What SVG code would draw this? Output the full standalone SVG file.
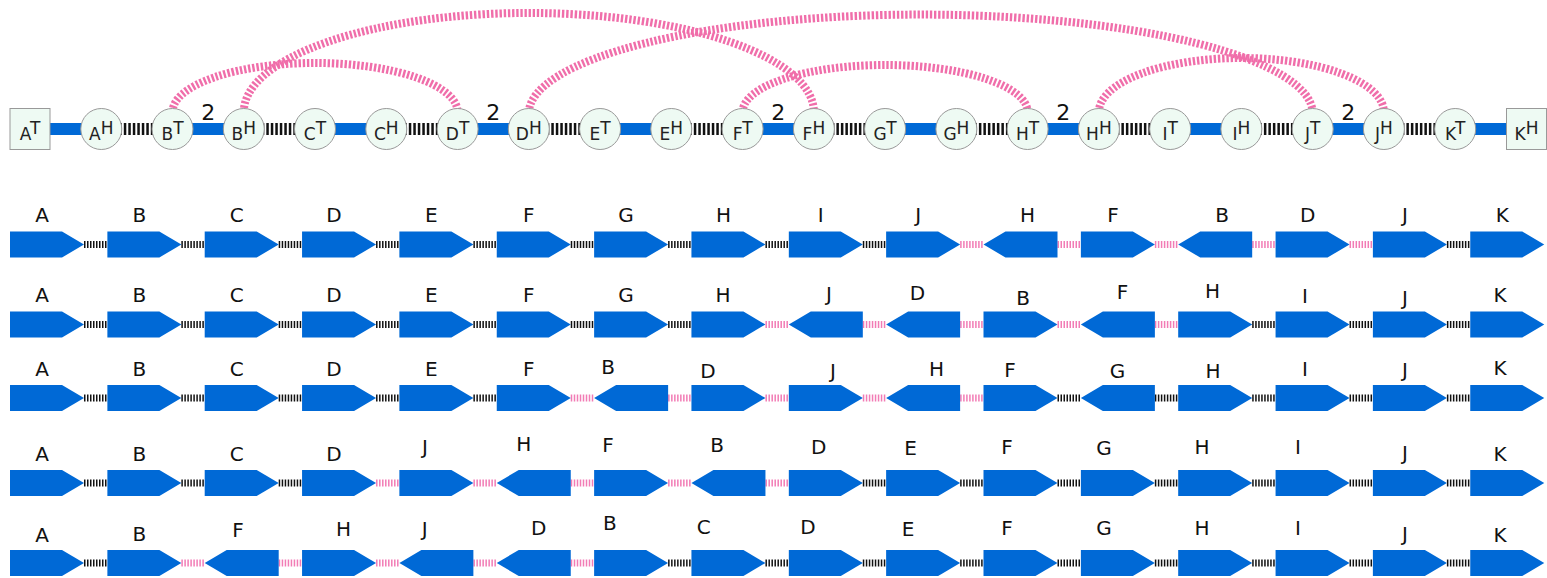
<svg xmlns="http://www.w3.org/2000/svg" xmlns:xlink="http://www.w3.org/1999/xlink" width="1547" height="578" viewBox="0 0 1547 578">
<style>
.blue{stroke:#0069d6;stroke-width:12}
.blk{stroke:#111;stroke-width:12;stroke-dasharray:2.5 2}
.arc{fill:none;stroke:#f06eaa;stroke-width:8;stroke-dasharray:2.4 1.8}
.rb{stroke:#111;stroke-width:7;stroke-dasharray:1.5 1.5}
.rp{stroke:#f27cb5;stroke-width:7;stroke-dasharray:1.5 1.5}
.node{fill:#eefaf3;stroke:#999;stroke-width:1}
.nt{font-family:"DejaVu Sans",sans-serif;font-size:17px;fill:#222;text-anchor:middle}
.two{font-family:"DejaVu Sans",sans-serif;font-size:22px;fill:#111;text-anchor:middle}
.lbl{font-family:"DejaVu Sans",sans-serif;font-size:20px;fill:#111;text-anchor:middle}
.ar{fill:#0069d6}
</style>
<defs>
<polygon id="fwd" points="0,-13 52,-13 74,0 52,13 0,13"/>
<polygon id="rev" points="74,-13 22,-13 0,0 22,13 74,13"/>
</defs>
<rect width="1547" height="578" fill="#fff"/>
<g id="connectors">
<g id="top-edges">
<line class="blue" x1="30" y1="129" x2="101.3" y2="129"/>
<line class="blue" x1="172.5" y1="129" x2="243.8" y2="129"/>
<line class="blue" x1="315" y1="129" x2="386.3" y2="129"/>
<line class="blue" x1="457.6" y1="129" x2="528.8" y2="129"/>
<line class="blue" x1="600.1" y1="129" x2="671.3" y2="129"/>
<line class="blue" x1="742.6" y1="129" x2="813.9" y2="129"/>
<line class="blue" x1="885.1" y1="129" x2="956.4" y2="129"/>
<line class="blue" x1="1027.6" y1="129" x2="1098.9" y2="129"/>
<line class="blue" x1="1170.2" y1="129" x2="1241.4" y2="129"/>
<line class="blue" x1="1312.7" y1="129" x2="1383.9" y2="129"/>
<line class="blue" x1="1455.2" y1="129" x2="1526.5" y2="129"/>
<line class="blk" x1="101.3" y1="129" x2="172.5" y2="129"/>
<line class="blk" x1="243.8" y1="129" x2="315" y2="129"/>
<line class="blk" x1="386.3" y1="129" x2="457.6" y2="129"/>
<line class="blk" x1="528.8" y1="129" x2="600.1" y2="129"/>
<line class="blk" x1="671.3" y1="129" x2="742.6" y2="129"/>
<line class="blk" x1="813.9" y1="129" x2="885.1" y2="129"/>
<line class="blk" x1="956.4" y1="129" x2="1027.6" y2="129"/>
<line class="blk" x1="1098.9" y1="129" x2="1170.2" y2="129"/>
<line class="blk" x1="1241.4" y1="129" x2="1312.7" y2="129"/>
<line class="blk" x1="1383.9" y1="129" x2="1455.2" y2="129"/>
<path class="arc" d="M172.5,112 A142.5,49 0 0 1 457.6,112"/>
<path class="arc" d="M243.8,112 A285,99 0 0 1 813.9,112"/>
<path class="arc" d="M528.8,112 A392,99 0 0 1 1312.7,112"/>
<path class="arc" d="M742.6,112 A142.5,47 0 0 1 1027.6,112"/>
<path class="arc" d="M1098.9,112 A142.5,54 0 0 1 1383.9,112"/>
<text class="two" x="208.2" y="120">2</text>
<text class="two" x="493.2" y="120">2</text>
<text class="two" x="778.2" y="120">2</text>
<text class="two" x="1063.3" y="120">2</text>
<text class="two" x="1348.3" y="120">2</text>
</g>
<g id="row1-edges">
<line class="rb" x1="84" y1="244.5" x2="107.35" y2="244.5"/>
<line class="rb" x1="181.35" y1="244.5" x2="204.7" y2="244.5"/>
<line class="rb" x1="278.7" y1="244.5" x2="302.05" y2="244.5"/>
<line class="rb" x1="376.05" y1="244.5" x2="399.4" y2="244.5"/>
<line class="rb" x1="473.4" y1="244.5" x2="496.75" y2="244.5"/>
<line class="rb" x1="570.75" y1="244.5" x2="594.1" y2="244.5"/>
<line class="rb" x1="668.1" y1="244.5" x2="691.45" y2="244.5"/>
<line class="rb" x1="765.45" y1="244.5" x2="788.8" y2="244.5"/>
<line class="rb" x1="862.8" y1="244.5" x2="886.15" y2="244.5"/>
<line class="rp" x1="960.15" y1="244.5" x2="983.5" y2="244.5"/>
<line class="rp" x1="1057.5" y1="244.5" x2="1080.85" y2="244.5"/>
<line class="rp" x1="1154.85" y1="244.5" x2="1178.2" y2="244.5"/>
<line class="rp" x1="1252.2" y1="244.5" x2="1275.55" y2="244.5"/>
<line class="rp" x1="1349.55" y1="244.5" x2="1372.9" y2="244.5"/>
<line class="rb" x1="1446.9" y1="244.5" x2="1470.25" y2="244.5"/>
</g>
<g id="row2-edges">
<line class="rb" x1="84" y1="324.5" x2="107.35" y2="324.5"/>
<line class="rb" x1="181.35" y1="324.5" x2="204.7" y2="324.5"/>
<line class="rb" x1="278.7" y1="324.5" x2="302.05" y2="324.5"/>
<line class="rb" x1="376.05" y1="324.5" x2="399.4" y2="324.5"/>
<line class="rb" x1="473.4" y1="324.5" x2="496.75" y2="324.5"/>
<line class="rb" x1="570.75" y1="324.5" x2="594.1" y2="324.5"/>
<line class="rb" x1="668.1" y1="324.5" x2="691.45" y2="324.5"/>
<line class="rp" x1="765.45" y1="324.5" x2="788.8" y2="324.5"/>
<line class="rp" x1="862.8" y1="324.5" x2="886.15" y2="324.5"/>
<line class="rp" x1="960.15" y1="324.5" x2="983.5" y2="324.5"/>
<line class="rp" x1="1057.5" y1="324.5" x2="1080.85" y2="324.5"/>
<line class="rp" x1="1154.85" y1="324.5" x2="1178.2" y2="324.5"/>
<line class="rb" x1="1252.2" y1="324.5" x2="1275.55" y2="324.5"/>
<line class="rb" x1="1349.55" y1="324.5" x2="1372.9" y2="324.5"/>
<line class="rb" x1="1446.9" y1="324.5" x2="1470.25" y2="324.5"/>
</g>
<g id="row3-edges">
<line class="rb" x1="84" y1="398" x2="107.35" y2="398"/>
<line class="rb" x1="181.35" y1="398" x2="204.7" y2="398"/>
<line class="rb" x1="278.7" y1="398" x2="302.05" y2="398"/>
<line class="rb" x1="376.05" y1="398" x2="399.4" y2="398"/>
<line class="rb" x1="473.4" y1="398" x2="496.75" y2="398"/>
<line class="rp" x1="570.75" y1="398" x2="594.1" y2="398"/>
<line class="rp" x1="668.1" y1="398" x2="691.45" y2="398"/>
<line class="rp" x1="765.45" y1="398" x2="788.8" y2="398"/>
<line class="rp" x1="862.8" y1="398" x2="886.15" y2="398"/>
<line class="rp" x1="960.15" y1="398" x2="983.5" y2="398"/>
<line class="rb" x1="1057.5" y1="398" x2="1080.85" y2="398"/>
<line class="rb" x1="1154.85" y1="398" x2="1178.2" y2="398"/>
<line class="rb" x1="1252.2" y1="398" x2="1275.55" y2="398"/>
<line class="rb" x1="1349.55" y1="398" x2="1372.9" y2="398"/>
<line class="rb" x1="1446.9" y1="398" x2="1470.25" y2="398"/>
</g>
<g id="row4-edges">
<line class="rb" x1="84" y1="483" x2="107.35" y2="483"/>
<line class="rb" x1="181.35" y1="483" x2="204.7" y2="483"/>
<line class="rb" x1="278.7" y1="483" x2="302.05" y2="483"/>
<line class="rp" x1="376.05" y1="483" x2="399.4" y2="483"/>
<line class="rp" x1="473.4" y1="483" x2="496.75" y2="483"/>
<line class="rp" x1="570.75" y1="483" x2="594.1" y2="483"/>
<line class="rp" x1="668.1" y1="483" x2="691.45" y2="483"/>
<line class="rp" x1="765.45" y1="483" x2="788.8" y2="483"/>
<line class="rb" x1="862.8" y1="483" x2="886.15" y2="483"/>
<line class="rb" x1="960.15" y1="483" x2="983.5" y2="483"/>
<line class="rb" x1="1057.5" y1="483" x2="1080.85" y2="483"/>
<line class="rb" x1="1154.85" y1="483" x2="1178.2" y2="483"/>
<line class="rb" x1="1252.2" y1="483" x2="1275.55" y2="483"/>
<line class="rb" x1="1349.55" y1="483" x2="1372.9" y2="483"/>
<line class="rb" x1="1446.9" y1="483" x2="1470.25" y2="483"/>
</g>
<g id="row5-edges">
<line class="rb" x1="84" y1="563" x2="107.35" y2="563"/>
<line class="rp" x1="181.35" y1="563" x2="204.7" y2="563"/>
<line class="rp" x1="278.7" y1="563" x2="302.05" y2="563"/>
<line class="rp" x1="376.05" y1="563" x2="399.4" y2="563"/>
<line class="rp" x1="473.4" y1="563" x2="496.75" y2="563"/>
<line class="rp" x1="570.75" y1="563" x2="594.1" y2="563"/>
<line class="rb" x1="668.1" y1="563" x2="691.45" y2="563"/>
<line class="rb" x1="765.45" y1="563" x2="788.8" y2="563"/>
<line class="rb" x1="862.8" y1="563" x2="886.15" y2="563"/>
<line class="rb" x1="960.15" y1="563" x2="983.5" y2="563"/>
<line class="rb" x1="1057.5" y1="563" x2="1080.85" y2="563"/>
<line class="rb" x1="1154.85" y1="563" x2="1178.2" y2="563"/>
<line class="rb" x1="1252.2" y1="563" x2="1275.55" y2="563"/>
<line class="rb" x1="1349.55" y1="563" x2="1372.9" y2="563"/>
<line class="rb" x1="1446.9" y1="563" x2="1470.25" y2="563"/>
</g>
</g>
<g id="graph-nodes">
<g id="AT"><rect class="node" x="10" y="108.5" width="40" height="41"/><text class="nt" x="30" y="140">A<tspan dy="-6">T</tspan></text></g>
<g id="AH"><circle class="node" cx="101.3" cy="129" r="20.5"/><text class="nt" x="101.3" y="140">A<tspan dy="-6">H</tspan></text></g>
<g id="BT"><circle class="node" cx="172.5" cy="129" r="20.5"/><text class="nt" x="172.5" y="140">B<tspan dy="-6">T</tspan></text></g>
<g id="BH"><circle class="node" cx="243.8" cy="129" r="20.5"/><text class="nt" x="243.8" y="140">B<tspan dy="-6">H</tspan></text></g>
<g id="CT"><circle class="node" cx="315" cy="129" r="20.5"/><text class="nt" x="315" y="140">C<tspan dy="-6">T</tspan></text></g>
<g id="CH"><circle class="node" cx="386.3" cy="129" r="20.5"/><text class="nt" x="386.3" y="140">C<tspan dy="-6">H</tspan></text></g>
<g id="DT"><circle class="node" cx="457.6" cy="129" r="20.5"/><text class="nt" x="457.6" y="140">D<tspan dy="-6">T</tspan></text></g>
<g id="DH"><circle class="node" cx="528.8" cy="129" r="20.5"/><text class="nt" x="528.8" y="140">D<tspan dy="-6">H</tspan></text></g>
<g id="ET"><circle class="node" cx="600.1" cy="129" r="20.5"/><text class="nt" x="600.1" y="140">E<tspan dy="-6">T</tspan></text></g>
<g id="EH"><circle class="node" cx="671.3" cy="129" r="20.5"/><text class="nt" x="671.3" y="140">E<tspan dy="-6">H</tspan></text></g>
<g id="FT"><circle class="node" cx="742.6" cy="129" r="20.5"/><text class="nt" x="742.6" y="140">F<tspan dy="-6">T</tspan></text></g>
<g id="FH"><circle class="node" cx="813.9" cy="129" r="20.5"/><text class="nt" x="813.9" y="140">F<tspan dy="-6">H</tspan></text></g>
<g id="GT"><circle class="node" cx="885.1" cy="129" r="20.5"/><text class="nt" x="885.1" y="140">G<tspan dy="-6">T</tspan></text></g>
<g id="GH"><circle class="node" cx="956.4" cy="129" r="20.5"/><text class="nt" x="956.4" y="140">G<tspan dy="-6">H</tspan></text></g>
<g id="HT"><circle class="node" cx="1027.6" cy="129" r="20.5"/><text class="nt" x="1027.6" y="140">H<tspan dy="-6">T</tspan></text></g>
<g id="HH"><circle class="node" cx="1098.9" cy="129" r="20.5"/><text class="nt" x="1098.9" y="140">H<tspan dy="-6">H</tspan></text></g>
<g id="IT"><circle class="node" cx="1170.2" cy="129" r="20.5"/><text class="nt" x="1170.2" y="140">I<tspan dy="-6">T</tspan></text></g>
<g id="IH"><circle class="node" cx="1241.4" cy="129" r="20.5"/><text class="nt" x="1241.4" y="140">I<tspan dy="-6">H</tspan></text></g>
<g id="JT"><circle class="node" cx="1312.7" cy="129" r="20.5"/><text class="nt" x="1312.7" y="140">J<tspan dy="-6">T</tspan></text></g>
<g id="JH"><circle class="node" cx="1383.9" cy="129" r="20.5"/><text class="nt" x="1383.9" y="140">J<tspan dy="-6">H</tspan></text></g>
<g id="KT"><circle class="node" cx="1455.2" cy="129" r="20.5"/><text class="nt" x="1455.2" y="140">K<tspan dy="-6">T</tspan></text></g>
<g id="KH"><rect class="node" x="1506.5" y="108.5" width="40" height="41"/><text class="nt" x="1526.5" y="140">K<tspan dy="-6">H</tspan></text></g>
</g>
<g id="row1" class="ar">
<g id="r1-A"><use href="#fwd" x="10" y="244.5"/><text class="lbl" x="42" y="222">A</text></g>
<g id="r1-B"><use href="#fwd" x="107.35" y="244.5"/><text class="lbl" x="139.4" y="222">B</text></g>
<g id="r1-C"><use href="#fwd" x="204.7" y="244.5"/><text class="lbl" x="236.7" y="222">C</text></g>
<g id="r1-D"><use href="#fwd" x="302.05" y="244.5"/><text class="lbl" x="334" y="222">D</text></g>
<g id="r1-E"><use href="#fwd" x="399.4" y="244.5"/><text class="lbl" x="431.4" y="222">E</text></g>
<g id="r1-F"><use href="#fwd" x="496.75" y="244.5"/><text class="lbl" x="528.8" y="222">F</text></g>
<g id="r1-G"><use href="#fwd" x="594.1" y="244.5"/><text class="lbl" x="626.1" y="222">G</text></g>
<g id="r1-H"><use href="#fwd" x="691.45" y="244.5"/><text class="lbl" x="723.5" y="222">H</text></g>
<g id="r1-I"><use href="#fwd" x="788.8" y="244.5"/><text class="lbl" x="820.8" y="222">I</text></g>
<g id="r1-J"><use href="#fwd" x="886.15" y="244.5"/><text class="lbl" x="918.2" y="222">J</text></g>
<g id="r1-H2"><use href="#rev" x="983.5" y="244.5"/><text class="lbl" x="1027.5" y="222">H</text></g>
<g id="r1-F2"><use href="#fwd" x="1080.85" y="244.5"/><text class="lbl" x="1112.9" y="222">F</text></g>
<g id="r1-B2"><use href="#rev" x="1178.2" y="244.5"/><text class="lbl" x="1222.2" y="222">B</text></g>
<g id="r1-D2"><use href="#fwd" x="1275.55" y="244.5"/><text class="lbl" x="1307.6" y="222">D</text></g>
<g id="r1-J2"><use href="#fwd" x="1372.9" y="244.5"/><text class="lbl" x="1404.9" y="222">J</text></g>
<g id="r1-K"><use href="#fwd" x="1470.25" y="244.5"/><text class="lbl" x="1502.3" y="222">K</text></g>
</g>
<g id="row2" class="ar">
<g id="r2-A"><use href="#fwd" x="10" y="324.5"/><text class="lbl" x="42" y="302.3">A</text></g>
<g id="r2-B"><use href="#fwd" x="107.35" y="324.5"/><text class="lbl" x="139.4" y="302.3">B</text></g>
<g id="r2-C"><use href="#fwd" x="204.7" y="324.5"/><text class="lbl" x="236.7" y="302.3">C</text></g>
<g id="r2-D"><use href="#fwd" x="302.05" y="324.5"/><text class="lbl" x="334" y="302.3">D</text></g>
<g id="r2-E"><use href="#fwd" x="399.4" y="324.5"/><text class="lbl" x="431.4" y="302.3">E</text></g>
<g id="r2-F"><use href="#fwd" x="496.75" y="324.5"/><text class="lbl" x="528.8" y="302.3">F</text></g>
<g id="r2-G"><use href="#fwd" x="594.1" y="324.5"/><text class="lbl" x="626.1" y="302.3">G</text></g>
<g id="r2-H"><use href="#fwd" x="691.45" y="324.5"/><text class="lbl" x="723" y="302.3">H</text></g>
<g id="r2-J"><use href="#rev" x="788.8" y="324.5"/><text class="lbl" x="829" y="300.8">J</text></g>
<g id="r2-D2"><use href="#rev" x="886.15" y="324.5"/><text class="lbl" x="917.5" y="300.3">D</text></g>
<g id="r2-B2"><use href="#fwd" x="983.5" y="324.5"/><text class="lbl" x="1023" y="305.3">B</text></g>
<g id="r2-F2"><use href="#rev" x="1080.85" y="324.5"/><text class="lbl" x="1122.5" y="299.3">F</text></g>
<g id="r2-H2"><use href="#fwd" x="1178.2" y="324.5"/><text class="lbl" x="1212.5" y="297.8">H</text></g>
<g id="r2-I"><use href="#fwd" x="1275.55" y="324.5"/><text class="lbl" x="1305" y="303.3">I</text></g>
<g id="r2-J2"><use href="#fwd" x="1372.9" y="324.5"/><text class="lbl" x="1405" y="305.3">J</text></g>
<g id="r2-K"><use href="#fwd" x="1470.25" y="324.5"/><text class="lbl" x="1500" y="302.3">K</text></g>
</g>
<g id="row3" class="ar">
<g id="r3-A"><use href="#fwd" x="10" y="398"/><text class="lbl" x="42" y="376.3">A</text></g>
<g id="r3-B"><use href="#fwd" x="107.35" y="398"/><text class="lbl" x="139.4" y="376.3">B</text></g>
<g id="r3-C"><use href="#fwd" x="204.7" y="398"/><text class="lbl" x="236.7" y="376.3">C</text></g>
<g id="r3-D"><use href="#fwd" x="302.05" y="398"/><text class="lbl" x="334" y="376.3">D</text></g>
<g id="r3-E"><use href="#fwd" x="399.4" y="398"/><text class="lbl" x="431.4" y="376.3">E</text></g>
<g id="r3-F"><use href="#fwd" x="496.75" y="398"/><text class="lbl" x="528.8" y="376.3">F</text></g>
<g id="r3-B2"><use href="#rev" x="594.1" y="398"/><text class="lbl" x="608" y="374.3">B</text></g>
<g id="r3-D2"><use href="#fwd" x="691.45" y="398"/><text class="lbl" x="708" y="378.3">D</text></g>
<g id="r3-J"><use href="#fwd" x="788.8" y="398"/><text class="lbl" x="833" y="378.3">J</text></g>
<g id="r3-H"><use href="#rev" x="886.15" y="398"/><text class="lbl" x="936.6" y="375.8">H</text></g>
<g id="r3-F2"><use href="#fwd" x="983.5" y="398"/><text class="lbl" x="1010" y="376.8">F</text></g>
<g id="r3-G"><use href="#rev" x="1080.85" y="398"/><text class="lbl" x="1117.5" y="378.3">G</text></g>
<g id="r3-H2"><use href="#fwd" x="1178.2" y="398"/><text class="lbl" x="1213" y="378.3">H</text></g>
<g id="r3-I"><use href="#fwd" x="1275.55" y="398"/><text class="lbl" x="1305" y="376.3">I</text></g>
<g id="r3-J2"><use href="#fwd" x="1372.9" y="398"/><text class="lbl" x="1405" y="377.3">J</text></g>
<g id="r3-K"><use href="#fwd" x="1470.25" y="398"/><text class="lbl" x="1500" y="375.3">K</text></g>
</g>
<g id="row4" class="ar">
<g id="r4-A"><use href="#fwd" x="10" y="483"/><text class="lbl" x="42" y="460.8">A</text></g>
<g id="r4-B"><use href="#fwd" x="107.35" y="483"/><text class="lbl" x="139.4" y="460.8">B</text></g>
<g id="r4-C"><use href="#fwd" x="204.7" y="483"/><text class="lbl" x="236.7" y="460.8">C</text></g>
<g id="r4-D"><use href="#fwd" x="302.05" y="483"/><text class="lbl" x="334" y="460.8">D</text></g>
<g id="r4-J"><use href="#fwd" x="399.4" y="483"/><text class="lbl" x="425" y="454.3">J</text></g>
<g id="r4-H"><use href="#rev" x="496.75" y="483"/><text class="lbl" x="523.7" y="451.3">H</text></g>
<g id="r4-F"><use href="#fwd" x="594.1" y="483"/><text class="lbl" x="608" y="452.3">F</text></g>
<g id="r4-B2"><use href="#rev" x="691.45" y="483"/><text class="lbl" x="717" y="452.3">B</text></g>
<g id="r4-D2"><use href="#fwd" x="788.8" y="483"/><text class="lbl" x="818.7" y="454.3">D</text></g>
<g id="r4-E"><use href="#fwd" x="886.15" y="483"/><text class="lbl" x="910.6" y="455.3">E</text></g>
<g id="r4-F2"><use href="#fwd" x="983.5" y="483"/><text class="lbl" x="1007" y="454.3">F</text></g>
<g id="r4-G"><use href="#fwd" x="1080.85" y="483"/><text class="lbl" x="1104" y="455.3">G</text></g>
<g id="r4-H2"><use href="#fwd" x="1178.2" y="483"/><text class="lbl" x="1202" y="454.3">H</text></g>
<g id="r4-I"><use href="#fwd" x="1275.55" y="483"/><text class="lbl" x="1298" y="454.3">I</text></g>
<g id="r4-J2"><use href="#fwd" x="1372.9" y="483"/><text class="lbl" x="1405" y="460.3">J</text></g>
<g id="r4-K"><use href="#fwd" x="1470.25" y="483"/><text class="lbl" x="1500" y="461.3">K</text></g>
</g>
<g id="row5" class="ar">
<g id="r5-A"><use href="#fwd" x="10" y="563"/><text class="lbl" x="42" y="541.8">A</text></g>
<g id="r5-B"><use href="#fwd" x="107.35" y="563"/><text class="lbl" x="139.4" y="541.3">B</text></g>
<g id="r5-F"><use href="#rev" x="204.7" y="563"/><text class="lbl" x="238" y="537.3">F</text></g>
<g id="r5-H"><use href="#fwd" x="302.05" y="563"/><text class="lbl" x="343.5" y="535.8">H</text></g>
<g id="r5-J"><use href="#rev" x="399.4" y="563"/><text class="lbl" x="424.8" y="535.8">J</text></g>
<g id="r5-D"><use href="#rev" x="496.75" y="563"/><text class="lbl" x="538.6" y="534.8">D</text></g>
<g id="r5-B2"><use href="#fwd" x="594.1" y="563"/><text class="lbl" x="609.8" y="530.3">B</text></g>
<g id="r5-C"><use href="#fwd" x="691.45" y="563"/><text class="lbl" x="703.7" y="534.3">C</text></g>
<g id="r5-D2"><use href="#fwd" x="788.8" y="563"/><text class="lbl" x="808" y="534.3">D</text></g>
<g id="r5-E"><use href="#fwd" x="886.15" y="563"/><text class="lbl" x="908" y="536.3">E</text></g>
<g id="r5-F2"><use href="#fwd" x="983.5" y="563"/><text class="lbl" x="1007" y="535.3">F</text></g>
<g id="r5-G"><use href="#fwd" x="1080.85" y="563"/><text class="lbl" x="1104" y="535.3">G</text></g>
<g id="r5-H2"><use href="#fwd" x="1178.2" y="563"/><text class="lbl" x="1202" y="535.3">H</text></g>
<g id="r5-I"><use href="#fwd" x="1275.55" y="563"/><text class="lbl" x="1298" y="535.3">I</text></g>
<g id="r5-J2"><use href="#fwd" x="1372.9" y="563"/><text class="lbl" x="1405" y="541.3">J</text></g>
<g id="r5-K"><use href="#fwd" x="1470.25" y="563"/><text class="lbl" x="1500" y="542.3">K</text></g>
</g>
</svg>
